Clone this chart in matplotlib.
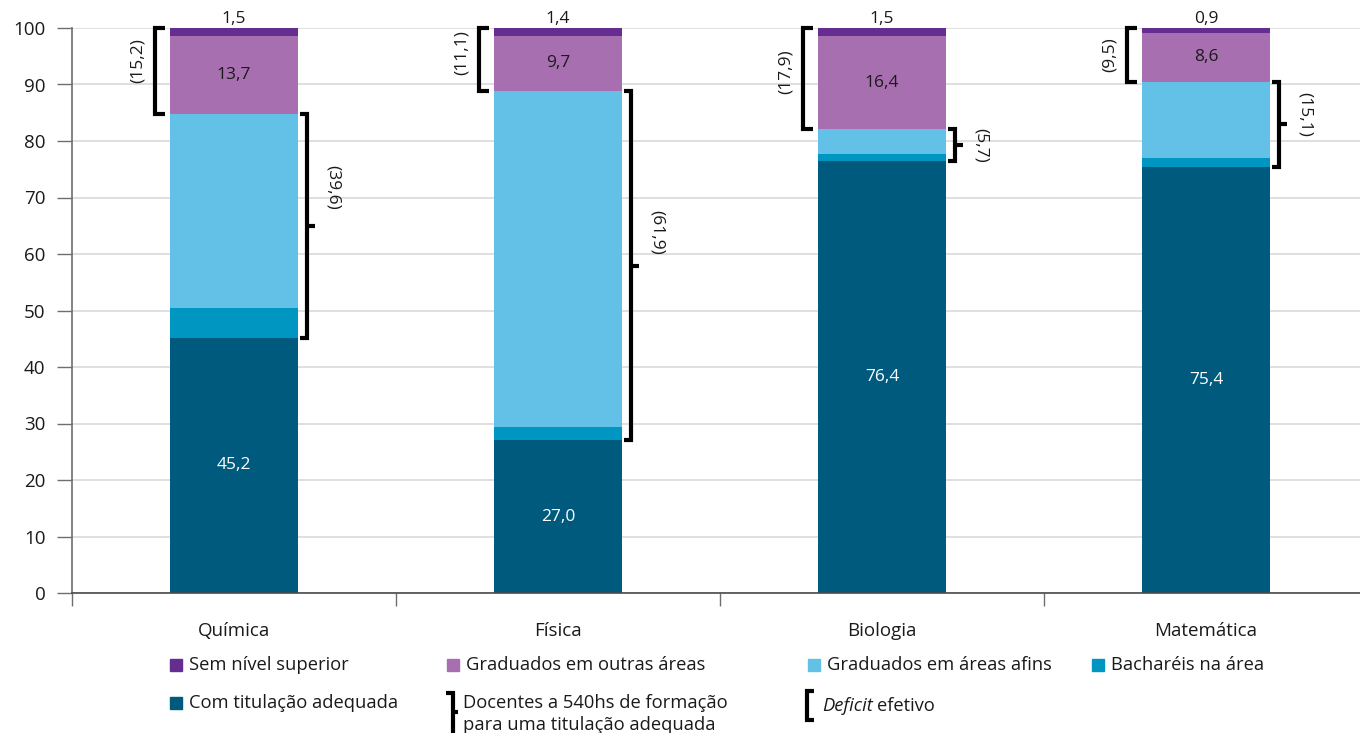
import matplotlib
matplotlib.use("Agg")
import matplotlib.pyplot as plt
from matplotlib.lines import Line2D
from matplotlib.patches import Rectangle

plt.rcParams['font.family'] = ['Open Sans', 'DejaVu Sans']

categories = ['Química', 'Física', 'Biologia', 'Matemática']
com_titulacao = [45.2, 27.0, 76.4, 75.4]
bachareis = [5.3, 2.4, 1.3, 1.6]
areas_afins = [34.3, 59.5, 4.4, 13.5]
outras_areas = [13.7, 9.7, 16.4, 8.6]
sem_superior = [1.5, 1.4, 1.5, 0.9]
y_ticks = [0, 10, 20, 30, 40, 50, 60, 70, 80, 90, 100]

series_labels = ['Com titulação adequada', 'Bacharéis na área', 'Graduados em áreas afins',
                 'Graduados em outras áreas', 'Sem nível superior']
colors = {
    'Com titulação adequada': '#005a7e',
    'Bacharéis na área': '#0096c2',
    'Graduados em áreas afins': '#63c0e6',
    'Graduados em outras áreas': '#a86fb0',
    'Sem nível superior': '#662d91',
}

# vertical nudges (pixels) for the bracket captions
right_label_shift = [38, 33, 0, 10]
left_label_shift = [10, 7, 7, 0]

TXT = '#1a1a1a'
FS_VAL = 12.5
FS_AX = 13.5
FS_LEG = 13.2

W, H = 1360, 733
fig = plt.figure(figsize=(W / 100, H / 100), dpi=100)
ax = fig.add_axes([72 / W, 140 / H, (W - 72) / W, 565 / H])
XMIN, XMAX = -0.5, 3.475
ax.set_xlim(XMIN, XMAX)
ax.set_ylim(0, 100)

px_x = (XMAX - XMIN) / (W - 72)   # data units per pixel (x)
px_y = 100 / 565                 # data units per pixel (y)

def fmt(v):
    return f"{v:.1f}".replace('.', ',')

x = list(range(len(categories)))
bw = 0.395
stack = [com_titulacao, bachareis, areas_afins, outras_areas, sem_superior]
bottom = [0.0] * len(categories)
for name, vals in zip(series_labels, stack):
    ax.bar(x, vals, bw, bottom=bottom, color=colors[name], zorder=2, linewidth=0)
    bottom = [b + v for b, v in zip(bottom, vals)]

# labels on the bars
for i in x:
    ax.text(i, com_titulacao[i] / 2, fmt(com_titulacao[i]), ha='center', va='center',
            color='white', fontsize=FS_VAL, zorder=3)
    base = com_titulacao[i] + bachareis[i] + areas_afins[i]
    ax.text(i, base + outras_areas[i] / 2, fmt(outras_areas[i]), ha='center', va='center',
            color=TXT, fontsize=FS_VAL, zorder=3)
    top = base + outras_areas[i] + sem_superior[i]
    ax.text(i, top + 0.1, fmt(sem_superior[i]), ha='center', va='bottom',
            color=TXT, fontsize=FS_VAL, zorder=3)

LW = 3.0
line_kw = dict(color='black', lw=LW, solid_joinstyle='miter', solid_capstyle='butt',
               zorder=4, clip_on=False)

for i in x:
    left = i - bw / 2
    right = i + bw / 2
    # deficit efetivo: outras áreas + sem nível superior
    lo_def = com_titulacao[i] + bachareis[i] + areas_afins[i]
    hi_def = lo_def + outras_areas[i] + sem_superior[i]
    xl = left - 15 * px_x
    xa = left - 5 * px_x
    ax.add_line(Line2D([xa, xl, xl, xa], [hi_def, hi_def, lo_def, lo_def], **line_kw))
    ax.text(xl - 17 * px_x, (hi_def + lo_def) / 2 + left_label_shift[i] * px_y,
            f"({fmt(outras_areas[i] + sem_superior[i])})", rotation=90,
            ha='center', va='center', fontsize=FS_VAL, color=TXT)

    # docentes a 540hs: bacharéis + áreas afins
    lo_540 = com_titulacao[i]
    hi_540 = lo_540 + bachareis[i] + areas_afins[i]
    xr = right + 9 * px_x
    xb = right + 2 * px_x
    ax.add_line(Line2D([xb, xr, xr, xb], [hi_540, hi_540, lo_540, lo_540], **line_kw))
    mid = (hi_540 + lo_540) / 2
    ax.add_line(Line2D([xr, xr + 8 * px_x], [mid, mid], **line_kw))
    ax.text(xr + 26 * px_x, mid + right_label_shift[i] * px_y,
            f"({fmt(bachareis[i] + areas_afins[i])})", rotation=270,
            ha='center', va='center', fontsize=FS_VAL, color=TXT)

# axes styling
for s in ['top', 'right']:
    ax.spines[s].set_visible(False)
ax.spines['left'].set_color('#6e6e6e')
ax.spines['bottom'].set_color('#4a4a4a')
ax.spines['left'].set_linewidth(1.2)
ax.spines['bottom'].set_linewidth(1.2)
ax.set_yticks(y_ticks)
ax.set_yticklabels([str(t) for t in y_ticks])
ax.tick_params(axis='y', length=11, width=1, color='#6e6e6e', pad=8,
               labelsize=FS_AX, labelcolor=TXT)
ax.yaxis.grid(True, color='#d9d9d9', lw=1.2, zorder=0)
ax.set_axisbelow(True)
ax.set_xticks(x)
ax.set_xticklabels(categories)
ax.tick_params(axis='x', which='major', length=0, pad=21, labelsize=FS_AX, labelcolor=TXT)
ax.set_xticks([-0.5, 0.5, 1.5, 2.5], minor=True)
ax.tick_params(axis='x', which='minor', length=9, width=1, color='#6e6e6e')

# legend drawn in figure coordinates
def fx(px):
    return px / W

def fy(py):
    return 1 - py / H

def square(px, py, name):
    fig.patches.append(Rectangle((fx(px), fy(py + 6)), 12 / W, 12 / H,
                                 transform=fig.transFigure, color=colors[name]))

row1, row2 = 665, 703
legend_items = [
    (170, row1, 'Sem nível superior'),
    (447, row1, 'Graduados em outras áreas'),
    (808, row1, 'Graduados em áreas afins'),
    (1092, row1, 'Bacharéis na área'),
    (170, row2, 'Com titulação adequada'),
]
for px, py, name in legend_items:
    square(px, py, name)
    fig.text(fx(px + 19), fy(py), name, ha='left', va='center', fontsize=FS_LEG, color=TXT)

leg_kw = dict(color='black', lw=LW, solid_joinstyle='miter', solid_capstyle='butt',
              transform=fig.transFigure)
# bracket for "Docentes a 540hs"
bx0, bx1 = 446, 453
fig.lines.append(Line2D([fx(bx0), fx(bx1), fx(bx1), fx(bx0)],
                        [fy(693), fy(693), fy(735), fy(735)], **leg_kw))
fig.lines.append(Line2D([fx(bx1), fx(bx1 + 5)], [fy(712), fy(712)], **leg_kw))
fig.text(fx(463), fy(703), 'Docentes a 540hs de formação', ha='left', va='center',
         fontsize=FS_LEG, color=TXT)
fig.text(fx(463), fy(725), 'para uma titulação adequada', ha='left', va='center',
         fontsize=FS_LEG, color=TXT)

# bracket for "Deficit efetivo"
dx0, dx1 = 807, 814
fig.lines.append(Line2D([fx(dx1), fx(dx0), fx(dx0), fx(dx1)],
                        [fy(691), fy(691), fy(720), fy(720)], **leg_kw))
t = fig.text(fx(822), fy(706), 'Deficit', ha='left', va='center', fontsize=FS_LEG,
             color=TXT, style='italic')
fig.canvas.draw()
bb = t.get_window_extent()
fig.text(bb.x1 / W + 4 / W, fy(706), 'efetivo', ha='left', va='center', fontsize=FS_LEG,
         color=TXT)

fig.savefig('out.png', dpi=100)
